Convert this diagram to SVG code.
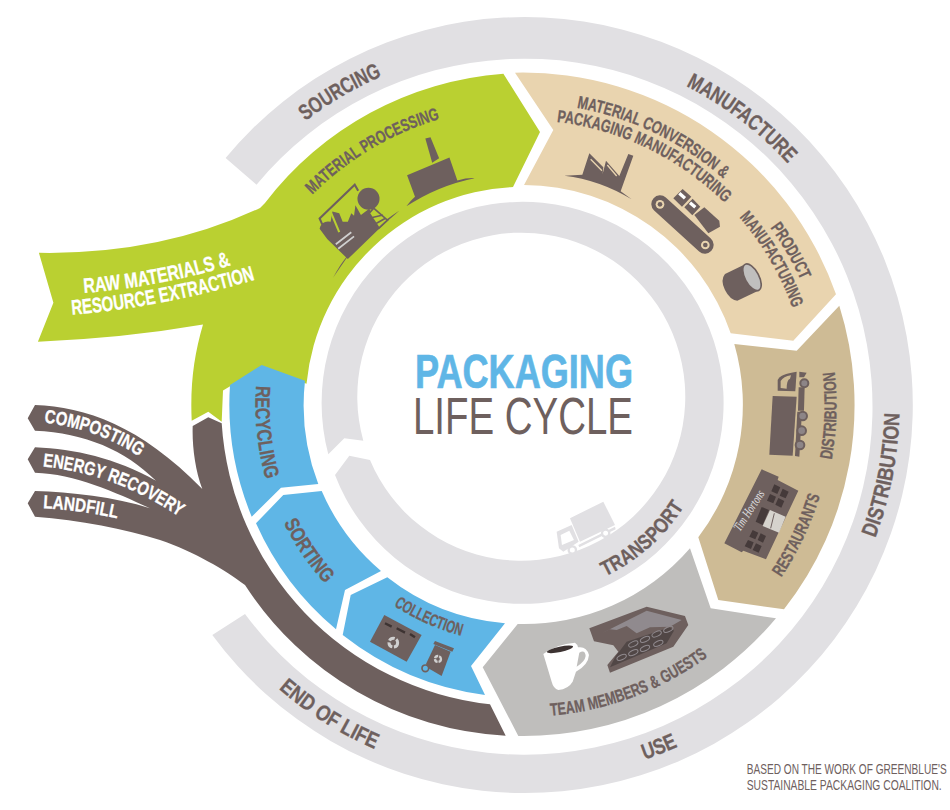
<svg xmlns="http://www.w3.org/2000/svg" width="950" height="810" viewBox="0 0 950 810">
<style>
text{font-family:"Liberation Sans Narrow","Liberation Sans",Arial,sans-serif;font-weight:700;fill:#6e605e;stroke:#6e605e;stroke-width:.3;text-anchor:middle}
text.w{fill:#fff;stroke:#fff}
text.t{fill:#5fb6e6;stroke:#5fb6e6;stroke-width:.7}
text.n{font-weight:400;stroke:none}
text.l{font-weight:400;stroke:none;text-anchor:start}
text.s{font-family:"Liberation Serif",serif;font-style:italic;font-weight:400;fill:#e1e0e3;stroke:none;text-anchor:start}
.b{fill:#6e605e}
.ring{fill:#e1e0e3}
</style>
<defs>
<path id="cw358" d="M165.5 405A358 358 0 0 1 881.5 405"/>
<path id="cw298" d="M225.5 405A298 298 0 0 1 821.5 405"/>
<path id="cw302" d="M221.5 405A302 302 0 0 1 825.5 405"/>
<path id="cw285" d="M238.5 405A285 285 0 0 1 808.5 405"/>
<path id="cw304" d="M219.5 405A304 304 0 0 1 827.5 405"/>
<path id="cw286" d="M237.5 405A286 286 0 0 1 809.5 405"/>
<path id="cc376" d="M147.5 405A376 376 0 0 0 899.5 405"/>
<path id="cc375" d="M148.5 405A375 375 0 0 0 898.5 405"/>
<path id="cc190" d="M333.5 405A190 190 0 0 0 713.5 405"/>
<path id="cc313" d="M210.5 405A313 313 0 0 0 836.5 405"/>
<path id="cc310" d="M213.5 405A310 310 0 0 0 833.5 405"/>
<path id="cc312" d="M211.5 405A312 312 0 0 0 835.5 405"/>
<path id="cc239" d="M284.5 405A239 239 0 0 0 762.5 405"/>
<path id="cc267" d="M256.5 405A267 267 0 0 0 790.5 405"/>
<path id="cc268" d="M255.5 405A268 268 0 0 0 791.5 405"/>
<path id="raw1" d="M83 293Q160 287 232 265"/>
<path id="raw2" d="M70 315Q165 307 257 279"/>
<path id="compost" d="M38 422Q100 428 144 460"/>
<path id="energy" d="M37 466Q115 472 184 520"/>
<path id="landfill" d="M40 508Q80 510 120 519"/>
</defs>

<g id="outer-ring">
<path class="ring" d="M245 614A348 348 0 1 0 256.500 184.700L225.600 158A388 388 0 1 1 212.300 635Z"/>
<text font-size="22" transform="rotate(-30.4 523.5 405)" textLength="89" lengthAdjust="spacingAndGlyphs"><textPath href="#cw358" startOffset="50%">SOURCING</textPath></text>
<text font-size="22" transform="rotate(37.3 523.5 405)" textLength="129" lengthAdjust="spacingAndGlyphs"><textPath href="#cw358" startOffset="50%">MANUFACTURE</textPath></text>
<text font-size="22" transform="rotate(-79 523.5 405)" textLength="128" lengthAdjust="spacingAndGlyphs"><textPath href="#cc376" startOffset="50%">DISTRIBUTION</textPath></text>
<text font-size="22" transform="rotate(-21.600 523.5 405)" textLength="36" lengthAdjust="spacingAndGlyphs"><textPath href="#cc375" startOffset="50%">USE</textPath></text>
<text font-size="22" transform="rotate(32.100 523.5 405)" textLength="114" lengthAdjust="spacingAndGlyphs"><textPath href="#cc375" startOffset="50%">END OF LIFE</textPath></text>
</g>

<g id="transport-ring">
<path class="ring" d="M328.300 454.300A201 201 0 1 1 335 475L349.300 455.700L370 460A164 164 0 1 0 363.300 440.700L344.300 438.300Z"/>
<text font-size="21" transform="rotate(-41.600 523.5 405)" textLength="107" lengthAdjust="spacingAndGlyphs"><textPath href="#cc190" startOffset="50%">TRANSPORT</textPath></text>
<g id="transport-truck" transform="translate(310 210) scale(.3333)" fill="#e1e0e3">
<path d="M780 925L880 875L915 945L810 995Z"/>
<path d="M740 965L785 945L806 995L760 1025L747 1015Z"/>
<path d="M752 975L778 962L792 990L756 1005Z" fill="#fff"/>
<path d="M805 1005L915 950L917 958L808 1012Z"/>
<circle cx="787" cy="1020" r="11" fill="#fff" stroke="#e1e0e3" stroke-width="7"/>
<circle cx="887" cy="970" r="11" fill="#fff" stroke="#e1e0e3" stroke-width="7"/>
</g>
</g>

<g id="center-title">
<text class="t" x="524" y="388.300" font-size="47.600" textLength="218" lengthAdjust="spacingAndGlyphs">PACKAGING</text>
<text class="n" x="523" y="434" font-size="51" textLength="220" lengthAdjust="spacingAndGlyphs">LIFE CYCLE</text>
</g>

<g id="sourcing">
<path fill="#bad031" d="M503.400 73.800L540 132L513 187A218 218 0 0 0 306.500 383.700L261.700 367.200L223 390.600L221.700 421.700L208.300 411.700L191.700 420.700C190 385 194 355 203 324.500Q125 338 37.900 341.700L53.400 302.800L38.900 252.800Q160 255 260 208L265 203A331 331 0 0 1 503.400 73.800Z"/>
<text class="w" font-size="21" textLength="150" lengthAdjust="spacingAndGlyphs"><textPath href="#raw1" startOffset="50%">RAW MATERIALS &amp;</textPath></text>
<text class="w" font-size="21" textLength="187" lengthAdjust="spacingAndGlyphs"><textPath href="#raw2" startOffset="50%">RESOURCE EXTRACTION</textPath></text>
<text font-size="17.500" transform="rotate(-30.700 523.5 405)" textLength="150" lengthAdjust="spacingAndGlyphs"><textPath href="#cw298" startOffset="50%">MATERIAL PROCESSING</textPath></text>
<g id="processing-icons" class="b" transform="translate(0 60) scale(.3444)">
<path d="M967 632C1010 550 1080 490 1160 437C1125 470 1095 490 1060 520L1005 577Z"/>
<path d="M1040 380L1030 362L928 460L936 478" fill="none" stroke="#6e605e" stroke-width="6"/>
<circle cx="1070" cy="403" r="32"/>
<path d="M928 490Q935 465 960 470L965 440L985 445L995 470L1010 470L1020 445L1028 452L1032 422L1048 450L1072 432L1096 480L1130 462L1010 578L950 520Z"/>
<path d="M1085 430L1125 465L1100 488L1072 445ZM1078 458L1112 450M1092 475L1118 460" stroke="#6e605e" stroke-width="5" fill="#bad031"/>
<path d="M960 440L985 500" stroke="#bad031" stroke-width="6" fill="none"/>
<path d="M975 535L1020 500M982 548L1028 512" stroke="#d0d0d0" stroke-width="5" fill="none"/>
<path d="M1235 228L1250 224L1275 285L1255 298Z"/>
<path d="M1182 335L1305 283L1328 350Q1355 342 1378 343Q1270 365 1180 425Q1195 405 1205 397Z"/>
</g>
</g>

<g id="manufacture">
<path fill="#e9d4af" d="M515 72.700L553.300 130L524 185A220 220 0 0 1 730.700 333.300L793.300 340.700L836 294.300A332 332 0 0 0 515 72.700Z"/>
<text font-size="17.500" transform="rotate(25.800 523.5 405)" textLength="165" lengthAdjust="spacingAndGlyphs"><textPath href="#cw302" startOffset="50%">MATERIAL CONVERSION &amp;</textPath></text>
<text font-size="17.500" transform="rotate(25.800 523.5 405)" textLength="190" lengthAdjust="spacingAndGlyphs"><textPath href="#cw285" startOffset="50%">PACKAGING MANUFACTURING</textPath></text>
<text font-size="17.500" transform="rotate(60 523.5 405)" textLength="61" lengthAdjust="spacingAndGlyphs"><textPath href="#cw304" startOffset="50%">PRODUCT</textPath></text>
<text font-size="17.500" transform="rotate(59.600 523.5 405)" textLength="106" lengthAdjust="spacingAndGlyphs"><textPath href="#cw286" startOffset="50%">MANUFACTURING</textPath></text>
<g id="manufacture-icons" class="b" transform="translate(500 50) scale(.3333)">
<path d="M193 377L247 374L268 310L310 352L308 372L318 332L358 378L385 312L400 317L362 424L395 448Q300 390 193 377Z"/>
<path d="M272 328L306 362M322 345L350 378" stroke="#e9d4af" stroke-width="4" fill="none"/>
<path d="M480 462L615 585" stroke="#6e605e" stroke-width="52" stroke-linecap="round"/>
<circle cx="480" cy="463" r="13" fill="#e9d4af"/><circle cx="480" cy="463" r="7"/>
<circle cx="616" cy="585" r="13" fill="#e9d4af"/><circle cx="616" cy="585" r="7"/>
<path d="M520 445L548 417L574 440L546 470Z"/>
<path d="M553 472L578 446L601 470L577 496Z"/>
<path d="M583 495L613 472L658 512L660 530L625 550Z"/>
<path d="M538 430L555 445M570 458L586 472" stroke="#fff" stroke-width="10" fill="none"/>
<path d="M737 642L675 672Q660 690 675 720Q690 750 712 752L775 722Z"/>
<ellipse cx="756" cy="682" rx="21" ry="44" transform="rotate(-28 756 682)" stroke="#6e605e" stroke-width="5" fill="#c0bfbe"/>
</g>
</g>

<g id="distribution">
<path fill="#cebb95" d="M839.300 305.700L796.700 350.700L734.300 344A219.500 219.500 0 0 1 698.300 537.300L718.300 600L784 609.300A331 331 0 0 0 839.300 305.700Z"/>
<text font-size="17.500" transform="rotate(-88 523.5 405)" textLength="88.500" lengthAdjust="spacingAndGlyphs"><textPath href="#cc313" startOffset="50%">DISTRIBUTION</textPath></text>
<text font-size="17.500" transform="rotate(-64.600 523.5 405)" textLength="91" lengthAdjust="spacingAndGlyphs"><textPath href="#cc310" startOffset="50%">RESTAURANTS</textPath></text>
<g id="distribution-icons" class="b" transform="translate(680 300) scale(.3333)">
<path d="M278 288L350 290L338 467L268 464Z"/>
<path d="M293 272V240Q300 222 350 215L346 274Z"/>
<path d="M302 264V243Q310 230 333 226L330 236Q320 240 320 266Z" fill="#cebb95"/>
<path d="M358 215L380 218L372 232L358 232Z"/>
<path d="M356 262H374L372 332H354Z"/>
<path d="M352 335L345 468L358 470L366 335Z"/>
<g fill="#8d8587" stroke="#6e605e" stroke-width="6">
<circle cx="373" cy="250" r="12"/><circle cx="368" cy="348" r="13"/><circle cx="365" cy="392" r="13"/><circle cx="360" cy="435" r="13"/>
</g>
<path d="M245 508L296 530L293 540L355 572L258 778L190 752L185 757L133 730Z"/>
<g fill="#453a3a">
<path d="M283 553L301 562L292 582L274 574ZM308 566L326 575L317 595L299 587ZM270 582L288 590L280 610L261 602ZM295 594L313 603L304 623L286 614Z"/>
<path d="M245 621L267 630L248 675L227 665Z"/>
<path d="M218 690L235 698L226 718L208 710ZM242 700L258 708L249 728L233 720ZM204 720L221 727L213 747L194 739ZM228 730L245 738L236 758L218 750Z"/>
</g>
<path d="M270 630L317 650L297 698L248 678Z" fill="#d6d3cd"/>
<path d="M283 640L272 685" stroke="#6e605e" stroke-width="3"/>
</g>
<text class="s" transform="translate(740 532) rotate(-57)" font-size="13" textLength="46" lengthAdjust="spacingAndGlyphs">Tim Hortons</text>
</g>

<g id="use">
<path fill="#bfbebc" d="M690 548.300L710.700 608.300L776 618.300A330 330 0 0 1 518.300 736L482.700 667.300L517.700 624A219 219 0 0 0 690 548.300Z"/>
<text font-size="17.500" transform="rotate(-20.600 523.5 405)" textLength="170" lengthAdjust="spacingAndGlyphs"><textPath href="#cc312" startOffset="50%">TEAM MEMBERS &amp; GUESTS</textPath></text>
<g id="use-icons" transform="translate(470 540) scale(.3333)">
<path fill="#fff" d="M220 342Q260 312 315 308Q325 315 324 322Q350 318 357 345Q355 375 318 395L308 425Q295 447 265 450Q250 445 245 425Z"/>
<path fill="#bfbebc" d="M328 338Q345 328 347 348Q345 365 320 380Z"/>
<ellipse cx="270" cy="328" rx="40" ry="8" fill="#3d3332" transform="rotate(-12 270 328)"/>
<path fill="#6e605e" d="M358 265L530 200L645 228L655 255L610 320L420 398L412 375L445 335L430 316L372 304Z"/>
<path fill="#908a8e" d="M385 285L530 212L635 240L600 260L540 262L500 280L470 258L440 270L420 268Z"/>
<path fill="#514746" d="M436 350L470 305L600 262L612 272L590 310L420 382Z"/>
<g fill="none" stroke="#908a8e" stroke-width="3">
<ellipse cx="490" cy="312" rx="15" ry="7" transform="rotate(-25 490 312)"/><ellipse cx="525" cy="298" rx="15" ry="7" transform="rotate(-25 525 298)"/><ellipse cx="560" cy="282" rx="15" ry="7" transform="rotate(-25 560 282)"/><ellipse cx="595" cy="268" rx="15" ry="7" transform="rotate(-25 595 268)"/>
<ellipse cx="455" cy="352" rx="15" ry="7" transform="rotate(-25 455 352)"/><ellipse cx="490" cy="338" rx="15" ry="7" transform="rotate(-25 490 338)"/><ellipse cx="525" cy="325" rx="15" ry="7" transform="rotate(-25 525 325)"/><ellipse cx="565" cy="310" rx="15" ry="7" transform="rotate(-25 565 310)"/>
</g>
</g>
</g>

<g id="end-of-life-recycling">
<path fill="#5fb6e6" d="M505 623.300L471 666L485 695A292.500 292.500 0 0 1 342.700 635L350.700 595L387.300 577.300A219.500 219.500 0 0 0 505 623.300Z"/>
<path fill="#5fb6e6" d="M381 571A219.500 219.500 0 0 1 321.700 491L283.300 495L256 523.300A292.500 292.500 0 0 0 336 629.300L345 590Z"/>
<path fill="#5fb6e6" d="M318.300 484A219.500 219.500 0 0 1 305 380.700L261.700 365L230 385A293 293 0 0 0 251.700 516.700L281 487.700Z"/>
<text font-size="17" transform="rotate(24 523.5 405)" textLength="74" lengthAdjust="spacingAndGlyphs"><textPath href="#cc239" startOffset="50%">COLLECTION</textPath></text>
<text font-size="20.500" transform="rotate(55.900 523.5 405)" textLength="74" lengthAdjust="spacingAndGlyphs"><textPath href="#cc267" startOffset="50%">SORTING</textPath></text>
<text font-size="20.500" transform="rotate(84 523.5 405)" textLength="95" lengthAdjust="spacingAndGlyphs"><textPath href="#cc268" startOffset="50%">RECYCLING</textPath></text>
<g id="collection-icons" class="b" transform="translate(200 360) scale(.3333)">
<path d="M553 765L665 825L620 905L510 845Z"/>
<path d="M555 790L575 800M590 805L615 818M630 822L645 832" stroke="#3d3332" stroke-width="7"/>
<circle cx="580" cy="848" r="13" fill="none" stroke="#d0d0d0" stroke-width="9" stroke-dasharray="18 5"/>
<path d="M705 843L762 865L757 875L700 852Z"/>
<path d="M705 855L752 875L725 948L685 925L678 912Z"/>
<circle cx="676" cy="925" r="10" fill="#5fb6e6" stroke="#6e605e" stroke-width="5"/>
<circle cx="714" cy="897" r="9" fill="none" stroke="#d0d0d0" stroke-width="7" stroke-dasharray="12 3"/>
</g>
</g>

<g id="end-of-life">
<path class="b" d="M505.700 735.700A331 331 0 0 1 245 585C225 570 195 552 160 540C125 529 80 520 35 516.700L27.700 503.300L35 491C70 492 115 497 150 508.300C115 492 75 474 35 472.700L27.700 459.300L35 447.300C75 449 115 458 156 480.700C125 450 85 433 35 430.700L27.700 418.300L35 405C85 407 140 425 202.300 489C195 470 192 445 192.700 426L208.300 417.300L221.700 423.300A302 302 0 0 0 490 704.300Z"/>
<text class="w" font-size="19" textLength="102" lengthAdjust="spacingAndGlyphs"><textPath href="#compost" startOffset="50%">COMPOSTING</textPath></text>
<text class="w" font-size="19" textLength="147" lengthAdjust="spacingAndGlyphs"><textPath href="#energy" startOffset="50%">ENERGY RECOVERY</textPath></text>
<text class="w" font-size="19" textLength="75" lengthAdjust="spacingAndGlyphs"><textPath href="#landfill" startOffset="50%">LANDFILL</textPath></text>
</g>

<g id="credit">
<text class="l" x="746.700" y="774" font-size="14" textLength="200" lengthAdjust="spacingAndGlyphs">BASED ON THE WORK OF GREENBLUE'S</text>
<text class="l" x="746.700" y="790" font-size="14" textLength="195" lengthAdjust="spacingAndGlyphs">SUSTAINABLE PACKAGING COALITION.</text>
</g>
</svg>
